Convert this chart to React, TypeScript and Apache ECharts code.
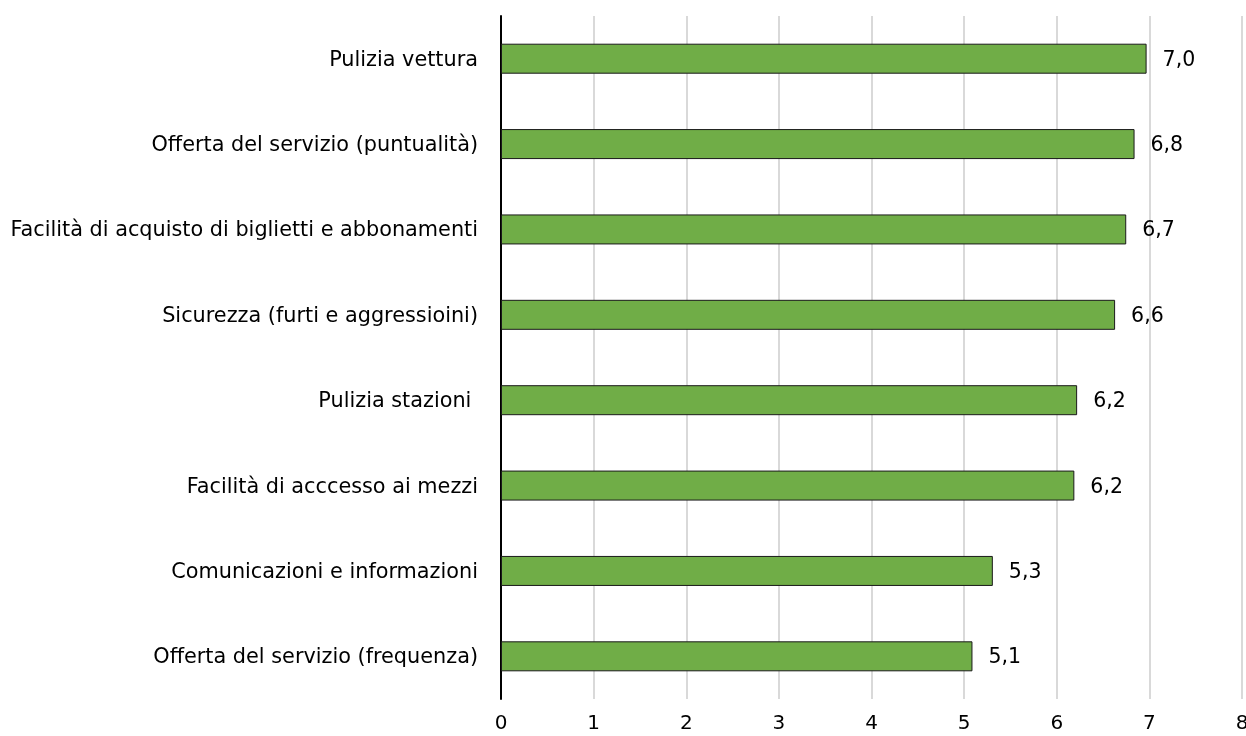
import React, { useEffect, useRef } from "react";
import * as echarts from "echarts";

const categories = [
  "Pulizia vettura",
  "Offerta del servizio (puntualità)",
  "Facilità di acquisto di biglietti e abbonamenti",
  "Sicurezza (furti e aggressioini)",
  "Pulizia stazioni ",
  "Facilità di acccesso ai mezzi",
  "Comunicazioni e informazioni",
  "Offerta del servizio (frequenza)",
];
const values = [6.97, 6.84, 6.75, 6.63, 6.22, 6.19, 5.31, 5.09];
const valueLabels = ["7,0", "6,8", "6,7", "6,6", "6,2", "6,2", "5,3", "5,1"];
const xTicks = [0, 1, 2, 3, 4, 5, 6, 7, 8];

export default function App() {
  const ref = useRef<HTMLDivElement>(null);
  useEffect(() => {
    if (!ref.current) return;
    const chart = echarts.init(ref.current, null, { renderer: "svg" });
    const font = "DejaVu Sans";
    chart.setOption({
      animation: false,
      grid: {
        left: 501,
        right: 4,
        top: 16,
        bottom: 37,
        containLabel: false,
        outerBoundsMode: "none",
      },
      xAxis: {
        type: "value",
        min: xTicks[0],
        max: xTicks[xTicks.length - 1],
        interval: 1,
        axisLine: { show: false },
        axisTick: { show: false },
        splitLine: { show: true, lineStyle: { color: "#d9d9d9", width: 2 } },
        axisLabel: { color: "#000", fontSize: 20, fontFamily: font, margin: 13 },
      },
      yAxis: {
        type: "category",
        data: categories,
        inverse: true,
        axisLine: { show: true, lineStyle: { color: "#000", width: 2 } },
        axisTick: { show: false },
        axisLabel: { color: "#000", fontSize: 20.8, fontFamily: font, margin: 23 },
      },
      series: [
        {
          type: "bar",
          data: values,
          barWidth: 30,
          itemStyle: { color: "#70AD47", borderColor: "#1a1a1a", borderWidth: 1 },
          label: {
            show: true,
            position: "right",
            distance: 16,
            color: "#000",
            fontSize: 20.5,
            fontFamily: font,
            formatter: (p: any) => valueLabels[p.dataIndex],
          },
        },
      ],
    });
    return () => chart.dispose();
  }, []);
  return (
    <div
      ref={ref}
      style={{ position: "fixed", left: 0, top: 0, width: 1246, height: 736 }}
    />
  );
}
